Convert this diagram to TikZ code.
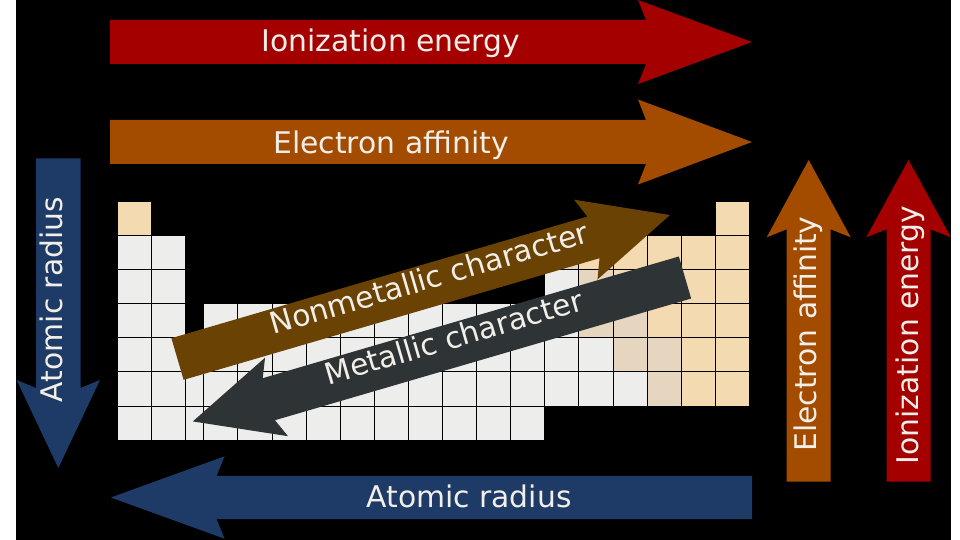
\documentclass[tikz,border=0pt]{standalone}
\usepackage{fontspec}
\setmainfont{DejaVu Sans}
\usepackage{tikz}
\definecolor{ionred}{HTML}{A40000}
\definecolor{affinorange}{HTML}{A34C00}
\definecolor{radiusblue}{HTML}{1E3A66}
\definecolor{nonmetbrown}{HTML}{6A4204}
\definecolor{metgray}{HTML}{2E3436}
\definecolor{trendwhite}{HTML}{F2EEE8}
\definecolor{ptmetal}{HTML}{EDEDEC}
\definecolor{ptmetalloid}{HTML}{E6D6C0}
\definecolor{ptnonmetal}{HTML}{F3DAB0}
\tikzset{
    trendtext/.style={text=trendwhite,inner sep=0pt,font=\fontsize{29.8}{36}\selectfont},
    ptcell/.style={draw=black,line width=1pt}
}
% start, angle, shaft length, half shaft, half head, head length, colour
\newcommand{\trendarrow}[7]{%
    \fill[#7,shift={#1},rotate=#2] (0,-#4) -- (#3,-#4) -- ({#3-8},-#5) -- ({#3+#6},0)
        -- ({#3-8},#5) -- (#3,#4) -- (0,#4) -- cycle;}

\begin{document}
\begin{tikzpicture}[x=1pt,y=-1pt]
    \useasboundingbox (0,0) rectangle (960,540);
    \fill[white] (0,0) rectangle (960,540);
    \fill[black] (16,0) rectangle (951,540);

    % table
    \foreach \r in {1,...,6}
        \foreach \c in {0,1}
            \path[ptcell,fill=ptmetal] ({117+34.1*\c},{201.7+34.05*\r}) rectangle ++(34.1,34.05);
    \path[ptcell,fill=ptnonmetal] (117,201.7) rectangle ++(34.1,34.05);
    \path[ptcell,fill=ptnonmetal] (715.3,201.7) rectangle ++(34.1,34.05);
    \foreach \r in {5,6}
        \path[ptcell,fill=ptmetal] (185.2,{201.7+34.05*\r}) rectangle ++(18.6,34.05);
    \foreach \r in {3,...,6}
        \foreach \c in {0,...,9}
            \path[ptcell,fill=ptmetal] ({203.8+34.1*\c},{201.7+34.05*\r}) rectangle ++(34.1,34.05);
    \foreach \r in {1,...,5}
        \foreach \c in {0,...,5}
            \path[ptcell,fill=ptnonmetal] ({544.8+34.1*\c},{201.7+34.05*\r}) rectangle ++(34.1,34.05);
    \foreach \r/\c in {2/0,3/0,4/0,4/1,5/0,5/1,5/2}
        \path[ptcell,fill=ptmetal] ({544.8+34.1*\c},{201.7+34.05*\r}) rectangle ++(34.1,34.05);
    \foreach \r/\c in {1/0,2/1,3/1,3/2,4/2,4/3,5/3}
        \path[ptcell,fill=ptmetalloid] ({544.8+34.1*\c},{201.7+34.05*\r}) rectangle ++(34.1,34.05);

    % arrows
    \trendarrow{(110,42)}{0}{536}{22}{42}{106}{ionred}
    \trendarrow{(110,142)}{0}{536}{22}{42.5}{106}{affinorange}
    \trendarrow{(752,497.5)}{180}{535.4}{21.7}{41.2}{105.8}{radiusblue}
    \trendarrow{(58.3,158.3)}{-90}{229.7}{22.3}{41.7}{80}{radiusblue}
    \trendarrow{(808.7,481.7)}{90}{252.4}{22}{42}{69.3}{affinorange}
    \trendarrow{(908.5,481.7)}{90}{252.4}{22}{42.3}{69.3}{ionred}
    \trendarrow{(177.5,359)}{16.3}{433.4}{21.7}{41.6}{79.7}{nonmetbrown}
    \trendarrow{(685,277.5)}{196.3}{433.6}{21.9}{40.9}{79.2}{metgray}

    \node[trendtext,anchor=base] (ionh) at (391,52) {Ionization energy};
    \node[trendtext,anchor=base] (affh) at (391,154) {Electron affinity};
    \node[trendtext,anchor=base] (radh) at (469,507) {Atomic radius};
    \node[trendtext,anchor=base,rotate=90] (radv) at (62,299.5) {Atomic radius};
    \node[trendtext,anchor=base,rotate=90] (affv) at (816.5,334) {Electron affinity};
    \node[trendtext,anchor=base,rotate=90] (ionv) at (918,335) {Ionization energy};
    \node[trendtext,anchor=mid,rotate=16.3] (nonmet) at (431.5,286) {Nonmetallic character};
    \node[trendtext,anchor=mid,rotate=16.3] (met) at (456,345) {Metallic character};
\end{tikzpicture}
\end{document}
